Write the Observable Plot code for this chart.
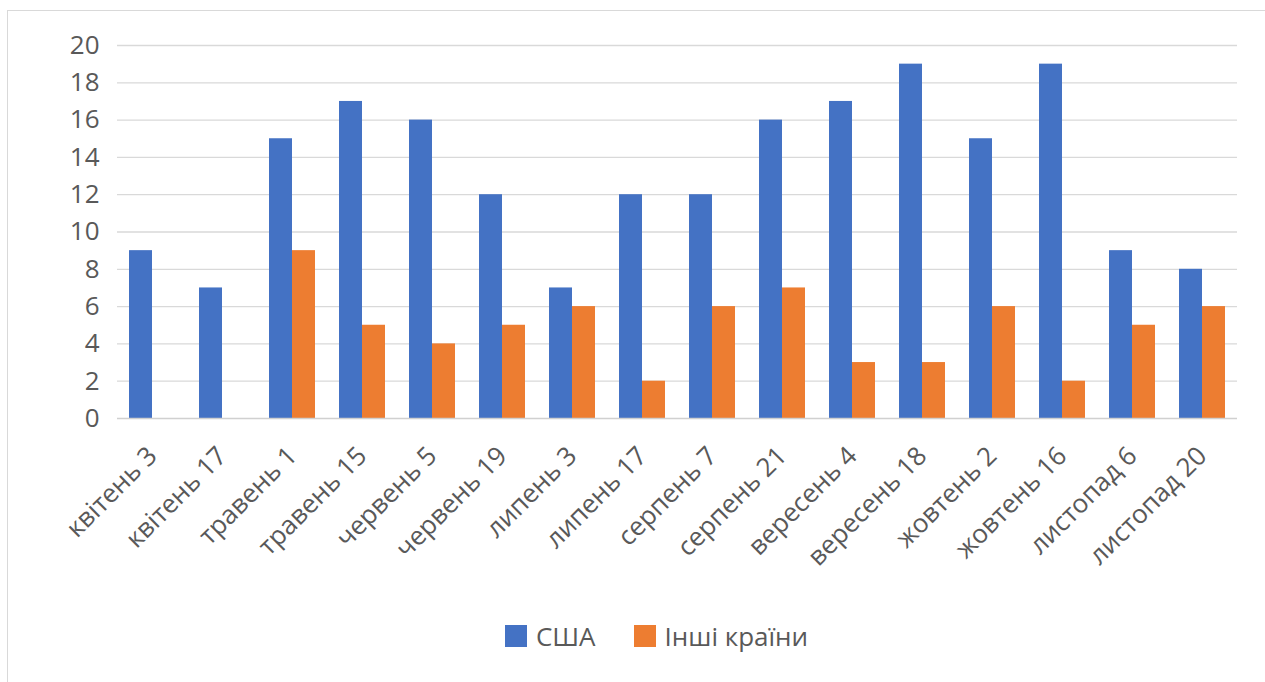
<!DOCTYPE html>
<html>
<head>
<meta charset="utf-8">
<script src="https://cdn.jsdelivr.net/npm/d3@7"></script>
<script src="https://cdn.jsdelivr.net/npm/@observablehq/plot@0.6"></script>
<style>
  html, body { margin: 0; padding: 0; background: #fff; }
  body { width: 1265px; height: 682px; position: relative; overflow: hidden; font-family: "Open Sans", sans-serif; }
  #frame { position: absolute; left: 7px; top: 10px; width: 1300px; height: 700px; border: 1px solid #d9d9d9; box-sizing: border-box; }
  #chart { position: absolute; left: 0; top: 0; }
  #legend { position: absolute; left: 0; top: 618px; width: 1265px; display: flex; justify-content: center; gap: 38px; font-size: 26px; color: #595959; padding-left: 48px; box-sizing: border-box; }
  #legend span.item { display: flex; align-items: center; gap: 9px; }
  #legend span.sw { display: inline-block; width: 22px; height: 22px; }
</style>
</head>
<body>
<div id="frame"></div>
<div id="chart"></div>
<div id="legend"></div>
<script>
const categories = ["квітень 3","квітень 17","травень 1","травень 15","червень 5","червень 19","липень 3","липень 17","серпень 7","серпень 21","вересень 4","вересень 18","жовтень 2","жовтень 16","листопад 6","листопад 20"];
const usa = [9,7,15,17,16,12,7,12,12,16,17,19,15,19,9,8];
const other = [0,0,9,5,4,5,6,2,6,7,3,3,6,2,5,6];
const seriesNames = ["США","Інші країни"];
const colors = ["#4472c4","#ed7d31"];
const yTicks = [0,2,4,6,8,10,12,14,16,18,20];

const dataUSA = categories.map((c,i)=>({cat:c, v:usa[i]}));
const dataOther = categories.map((c,i)=>({cat:c, v:other[i]}));

const chart = Plot.plot({
  width: 1265,
  height: 600,
  marginLeft: 117,
  marginRight: 28,
  marginTop: 45,
  marginBottom: 182,
  style: {fontFamily: "'Open Sans', sans-serif", fontSize: "26px", color: "#595959", background: "transparent"},
  x: {domain: categories, paddingInner: 0.343, paddingOuter: 0.171, axis: null},
  y: {domain: [0,20], axis: null},
  marks: [
    Plot.ruleY(yTicks.filter(d=>d>0), {stroke: "#d9d9d9", strokeWidth: 1.3}),
    Plot.barY(dataUSA, {x: "cat", y: "v", fill: colors[0], insetRight: 23}),
    Plot.barY(dataOther, {x: "cat", y: "v", fill: colors[1], insetLeft: 23}),
    Plot.ruleY([0], {stroke: "#d0d0d0", strokeWidth: 1.5}),
    Plot.axisY({ticks: yTicks, tickSize: 0, tickPadding: 18, fontSize: 26, label: null}),
    Plot.axisX({tickRotate: -45, tickSize: 0, tickPadding: 33, fontSize: 26, label: null})
  ]
});
document.getElementById("chart").appendChild(chart);

const legend = document.getElementById("legend");
seriesNames.forEach((n,i)=>{
  const it = document.createElement("span");
  it.className = "item";
  const sw = document.createElement("span");
  sw.className = "sw";
  sw.style.background = colors[i];
  it.appendChild(sw);
  const t = document.createElement("span");
  t.textContent = n;
  it.appendChild(t);
  legend.appendChild(it);
});
</script>
</body>
</html>
